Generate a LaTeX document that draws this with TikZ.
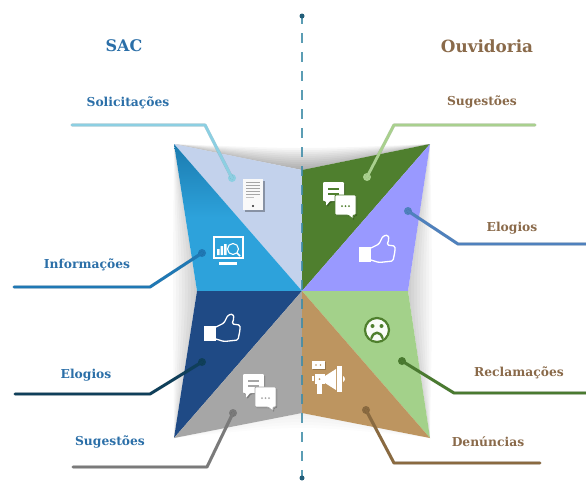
\documentclass[tikz,border=0pt]{standalone}
\usepackage{fontspec}
\setmainfont{DejaVu Serif}
\usetikzlibrary{arrows.meta}
\definecolor{sacblue}{HTML}{2B6FA8}
\definecolor{ouvbrown}{HTML}{8A6A4A}
\definecolor{axisblue}{HTML}{3F8CA8}
\definecolor{cLight}{HTML}{C3D2EC}
\definecolor{cBlueA}{HTML}{1B7BAF}
\definecolor{cBlueB}{HTML}{2DA2DB}
\definecolor{cDark}{HTML}{1F4A85}
\definecolor{cGray}{HTML}{A6A6A6}
\definecolor{cGreen}{HTML}{4F7F2E}
\definecolor{cPeri}{HTML}{9999FF}
\definecolor{cLGreen}{HTML}{A3D18A}
\definecolor{cTan}{HTML}{BD9560}
\definecolor{lnSol}{HTML}{8CCFE2}
\definecolor{lnInf}{HTML}{1F78B4}
\definecolor{lnElo}{HTML}{0F3F5A}
\definecolor{lnSug}{HTML}{7A7A7A}
\definecolor{lnSugR}{HTML}{A9D08E}
\definecolor{lnEloR}{HTML}{4F81BD}
\definecolor{lnRec}{HTML}{4A7A30}
\definecolor{lnDen}{HTML}{8A6A40}
\tikzset{
  x=1pt,y=-1pt,
  sactitle/.style={font=\bfseries\fontsize{16}{16}\selectfont,text=sacblue},
  ouvtitle/.style={font=\bfseries\fontsize{16.8}{17}\selectfont,text=ouvbrown},
  saclabel/.style={font=\bfseries\fontsize{12.3}{12}\selectfont,text=sacblue},
  ouvlabel/.style={font=\bfseries\fontsize{12.3}{12}\selectfont,text=ouvbrown},
  lead/.style={line width=2.9pt,line cap=round,line join=round,draw=#1},
  leadshadow/.style={line width=3.2pt,line cap=round,line join=round,draw=black,opacity=.16},
  leaddot/.style={circle,inner sep=0pt,minimum size=8pt,fill=#1},
  pics/chaticon/.style={code={
    \fill[black,opacity=.25,rounded corners=1pt,shift={(1.2,1.2)}] (0,0) -- (21,0) -- (21,19) -- (7,19) -- (3,24) -- (3,19) -- (0,19) -- cycle;
    \fill[black,opacity=.25,rounded corners=1pt,shift={(1.2,1.2)}] (12,13) -- (33,13) -- (33,33) -- (30,33) -- (30,37) -- (25,33) -- (12,33) -- cycle;
    \fill[white,rounded corners=1pt] (0,0) -- (21,0) -- (21,19) -- (7,19) -- (3,24) -- (3,19) -- (0,19) -- cycle;
    \draw[#1,line width=1.7pt] (5,7) -- (16,7) (5,12) -- (16,12);
    \draw[fill=white,draw=#1,line width=.8pt,rounded corners=1pt] (12,13) -- (33,13) -- (33,33) -- (30,33) -- (30,37) -- (25,33) -- (12,33) -- cycle;
    \fill[#1] (19,24) circle (1) (22.5,24) circle (1) (26,24) circle (1);
  }},
  pics/thumbicon/.style={code={
    \fill[white] (0,12) rectangle (12,27);
    \draw[white,line width=1.3pt,line join=round,rounded corners=1.5pt] (12,13) -- (20,9) -- (24,1) -- (29,0) -- (30,4) -- (28,10) -- (36,11) -- (36,16) -- (34,26) -- (20,27.5) -- (12,25);
  }},
}
\begin{document}
\begin{tikzpicture}
\useasboundingbox[fill=white] (0,0) rectangle (586,480);
\coordinate (c0) at (302,291);
\coordinate (TL) at (174,144);
\coordinate (TR) at (430,144);
\coordinate (BL) at (174,438);
\coordinate (BR) at (430,438);
\coordinate (lm) at (197,291);
\coordinate (rm) at (408,291);
\coordinate (tm) at (302,170);
\coordinate (bm) at (302,413);
% soft shadow: lens-shaped layers tapering into the corners
\foreach \d in {2,4,...,22}{
  \fill[black,opacity=.032] (TL) -- (tm) -- (TR) .. controls (302,{(134-\d)/.75}) .. (TL) -- cycle;
}
\foreach \d in {3,6,...,24}{
  \fill[black,opacity=.024] (TL) -- (lm) -- (BL) .. controls ({(153.5-\d)/.75},291) .. (TL) -- cycle;
  \fill[black,opacity=.024] (TR) -- (rm) -- (BR) .. controls ({(300.5+\d)/.75},291) .. (TR) -- cycle;
}
\foreach \d in {3,6,...,15}{
  \fill[black,opacity=.012] (BL) -- (bm) -- (BR) .. controls (302,{(303.5+\d)/.75}) .. (BL) -- cycle;
}
% triangles
\fill[cLight] (TL) -- (tm) -- (c0) -- cycle;
\shade[top color=cBlueA,bottom color=cBlueB,middle color=cBlueB] (TL) -- (c0) -- (lm) -- cycle;
\fill[cDark] (lm) -- (c0) -- (BL) -- cycle;
\fill[cGray] (BL) -- (c0) -- (bm) -- cycle;
\fill[cGreen] (tm) -- (TR) -- (c0) -- cycle;
\fill[cPeri] (TR) -- (rm) -- (c0) -- cycle;
\fill[cLGreen] (c0) -- (rm) -- (BR) -- cycle;
\fill[cTan] (c0) -- (BR) -- (bm) -- cycle;
% axis
\coordinate (axT) at (302,14);
\coordinate (axB) at (302,480);
\draw[axisblue,line width=1.7pt,dash pattern=on 10pt off 9pt,opacity=.85] (axT) -- (axB);
\node[circle,inner sep=0pt,minimum size=5pt,fill=lnElo!60!axisblue] (axdotT) at (302,16) {};
\node[circle,inner sep=0pt,minimum size=5pt,fill=lnElo!60!axisblue] (axdotB) at (302,478) {};
% titles
\node[sactitle] (tSAC) at (124,46) {SAC};
\node[ouvtitle] (tOuv) at (487,46) {Ouvidoria};
% labels
\node[saclabel] (lSol) at (128,103) {Solicitações};
\node[saclabel] (lInf) at (87,265) {Informações};
\node[saclabel] (lElo) at (86,375) {Elogios};
\node[saclabel] (lSug) at (110,442) {Sugestões};
\node[ouvlabel] (rSug) at (482,102) {Sugestões};
\node[ouvlabel] (rElo) at (512,228) {Elogios};
\node[ouvlabel] (rRec) at (519,373) {Reclamações};
\node[ouvlabel] (rDen) at (488,442) {Denúncias};
% leader coordinates and dots
\coordinate (a1) at (72,125);  \coordinate (k1) at (205,125); \node[leaddot=lnSol] (d1) at (232,178) {};
\coordinate (a2) at (14,287);  \coordinate (k2) at (150,287); \node[leaddot=lnInf] (d2) at (202,253) {};
\coordinate (a3) at (15,394);  \coordinate (k3) at (150,394); \node[leaddot=lnElo] (d3) at (202,362) {};
\coordinate (a4) at (73,467);  \coordinate (k4) at (207,467); \node[leaddot=lnSug] (d4) at (233,413) {};
\coordinate (a5) at (535,125); \coordinate (k5) at (394,125); \node[leaddot=lnSugR] (d5) at (367,177) {};
\coordinate (a6) at (586,244); \coordinate (k6) at (458,244); \node[leaddot=lnEloR] (d6) at (408,211) {};
\coordinate (a7) at (586,393); \coordinate (k7) at (454,393); \node[leaddot=lnRec] (d7) at (402,361) {};
\coordinate (a8) at (540,463); \coordinate (k8) at (394,463); \node[leaddot=lnDen] (d8) at (366,410) {};
\foreach \i/\c in {1/lnSol,2/lnInf,3/lnElo,4/lnSug,5/lnSugR,6/lnEloR,7/lnRec,8/lnDen}{
  \draw[leadshadow,shift={(0,1.5)}] (a\i) -- (k\i) -- (d\i.center);
  \draw[lead=\c] (a\i) -- (k\i) -- (d\i.center);
}
% document icon
\begin{scope}[shift={(243,179)}]
  \fill[black,opacity=.3] (1.5,1.5) rectangle (21.5,32.5);
  \fill[white!95!gray] (0,0) rectangle (20,31);
  \foreach \yy in {3,6,9,12,15}{\draw[gray!70,line width=.9pt] (3,\yy) -- (17,\yy);}
  \draw[gray!50,line width=.9pt] (3,18) -- (11,18);
  \fill[gray!30!black] (10,27) circle (1.1);
\end{scope}
% monitor icon
\begin{scope}[shift={(213,236)}]
  \draw[white,line width=1.8pt] (1,1) rectangle (30,22);
  \fill[white] (6,25.5) rectangle (24,28.5);
  \fill[white] (4,19) rectangle (6.5,13) (7.5,19) rectangle (10,10) (11,19) rectangle (13.5,8);
  \draw[white,line width=1.1pt,fill=cBlueB] (20,13) circle (5.5);
  \draw[white,line width=1.5pt] (24,17) -- (27,20);
\end{scope}
% chat and thumb icons
\pic at (243,374) {chaticon=cGray};
\pic at (323,182) {chaticon=cGreen};
\pic at (204,314) {thumbicon};
\pic at (359,235) {thumbicon};
% sad face
\node[circle,draw=cGreen,line width=2.2pt,fill=white!94!cLGreen,minimum size=24pt,inner sep=0pt] (face) at (377,330) {};
\fill[cGreen] (372.5,326) circle (2) (381.5,326) circle (2);
\draw[cGreen,line width=2.4pt,line cap=round] (371.5,338) .. controls (373.5,331) and (380.5,331) .. (382.5,338);
% megaphone icon
\begin{scope}[shift={(312,361)}]
  \fill[black,opacity=.2] (1,1) rectangle (14,9);
  \fill[white] (0,0) rectangle (13,8);
  \fill[cTan] (4,4) circle (.9) (8.5,4) circle (.9);
  \fill[white] (3,13) rectangle (13,23);
  \fill[cTan] (7.5,18) circle (1);
  \fill[white] (0,15) rectangle (2,20);
  \fill[white] (5,23) rectangle (10,33);
  \fill[white] (13,15) -- (24,8) -- (24,29) -- (13,22) -- cycle;
  \fill[white] (25,5) rectangle (30,31);
  \fill[white] (31,15) .. controls (33.5,16) and (33.5,20) .. (31,21) -- cycle;
\end{scope}
\end{tikzpicture}
\end{document}
